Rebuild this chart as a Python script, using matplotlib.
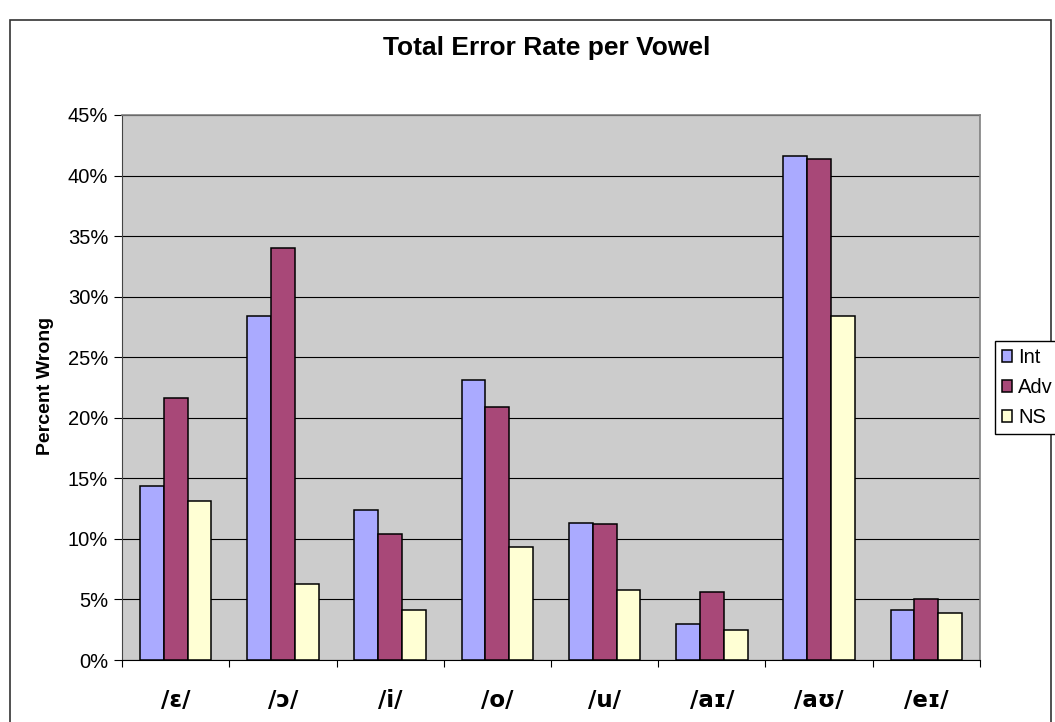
import numpy as np
import matplotlib.pyplot as plt
from matplotlib.patches import Rectangle

plt.rcParams['font.family'] = ['Liberation Sans', 'DejaVu Sans']

vowels = ['/ɛ/', '/ɔ/', '/i/', '/o/', '/u/', '/aɪ/', '/aʊ/', '/eɪ/']
series = ['Int', 'Adv', 'NS']
int_rate = [14.4, 28.4, 12.4, 23.1, 11.3, 3.0, 41.6, 4.1]
adv_rate = [21.6, 34.0, 10.4, 20.9, 11.2, 5.6, 41.4, 5.0]
ns_rate = [13.1, 6.3, 4.1, 9.3, 5.8, 2.5, 28.4, 3.9]
colors = ['#aaaaff', '#a84878', '#ffffd4']

W, H = 1055, 722
fig = plt.figure(figsize=(W / 100, H / 100), dpi=100)

# chart frame (bottom edge runs off the page)
fig.patches.append(Rectangle((10 / W, -0.05), (1051 - 10) / W, 1.05 - 20 / H,
                             transform=fig.transFigure, fill=False,
                             edgecolor='#333333', linewidth=1.2))

ax = fig.add_axes([122 / W, 1 - 660 / H, (980 - 122) / W, (660 - 115) / H])
ax.set_facecolor('#cccccc')

x = np.arange(len(vowels)) + 0.5
bw = 0.222
for k, (vals, c) in enumerate(zip([int_rate, adv_rate, ns_rate], colors)):
    ax.bar(x + (k - 1) * bw, vals, width=bw, color=c, edgecolor='black',
           linewidth=1.1, label=series[k], zorder=3)

ax.set_xlim(0, len(vowels))
ax.set_ylim(0, 45)
ax.set_yticks(np.arange(0, 46, 5))
ax.set_yticklabels([f'{v}%' for v in range(0, 46, 5)], fontsize=14.5)
ax.yaxis.grid(True, color='black', linewidth=0.8, zorder=1)
ax.set_axisbelow(True)

ax.set_xticks(np.arange(len(vowels) + 1))
ax.set_xticklabels([])
ax.set_xticks(x, minor=True)
ax.set_xticklabels(vowels, minor=True, fontsize=16.5, fontweight='bold',
                   family=['DejaVu Sans'])
ax.tick_params(axis='x', which='minor', length=0, pad=21)
ax.tick_params(axis='x', which='major', length=5, width=0.8, direction='out')
ax.tick_params(axis='y', length=6, width=0.8, direction='out', pad=4)

for side in ['top', 'right']:
    ax.spines[side].set_color('#808080')
    ax.spines[side].set_linewidth(1.2)
ax.spines['left'].set_color('#444444')
ax.spines['bottom'].set_color('black')

fig.text(547 / W, 1 - 48 / H, 'Total Error Rate per Vowel', ha='center',
         va='center', fontsize=19, fontweight='bold')
fig.text(45 / W, 1 - 386 / H, 'Percent Wrong', ha='center', va='center',
         rotation=90, fontsize=14, fontweight='bold')

leg = fig.legend(loc='upper left', bbox_to_anchor=(995 / W, 1 - 341 / H),
                 bbox_transform=fig.transFigure, borderaxespad=0,
                 fontsize=14.5, handlelength=0.5, handleheight=0.5,
                 handletextpad=0.3, labelspacing=0.55, borderpad=0.35,
                 fancybox=False, framealpha=1)
leg.get_frame().set_edgecolor('black')
leg.get_frame().set_linewidth(1.0)

fig.savefig('out.png', dpi=100)
